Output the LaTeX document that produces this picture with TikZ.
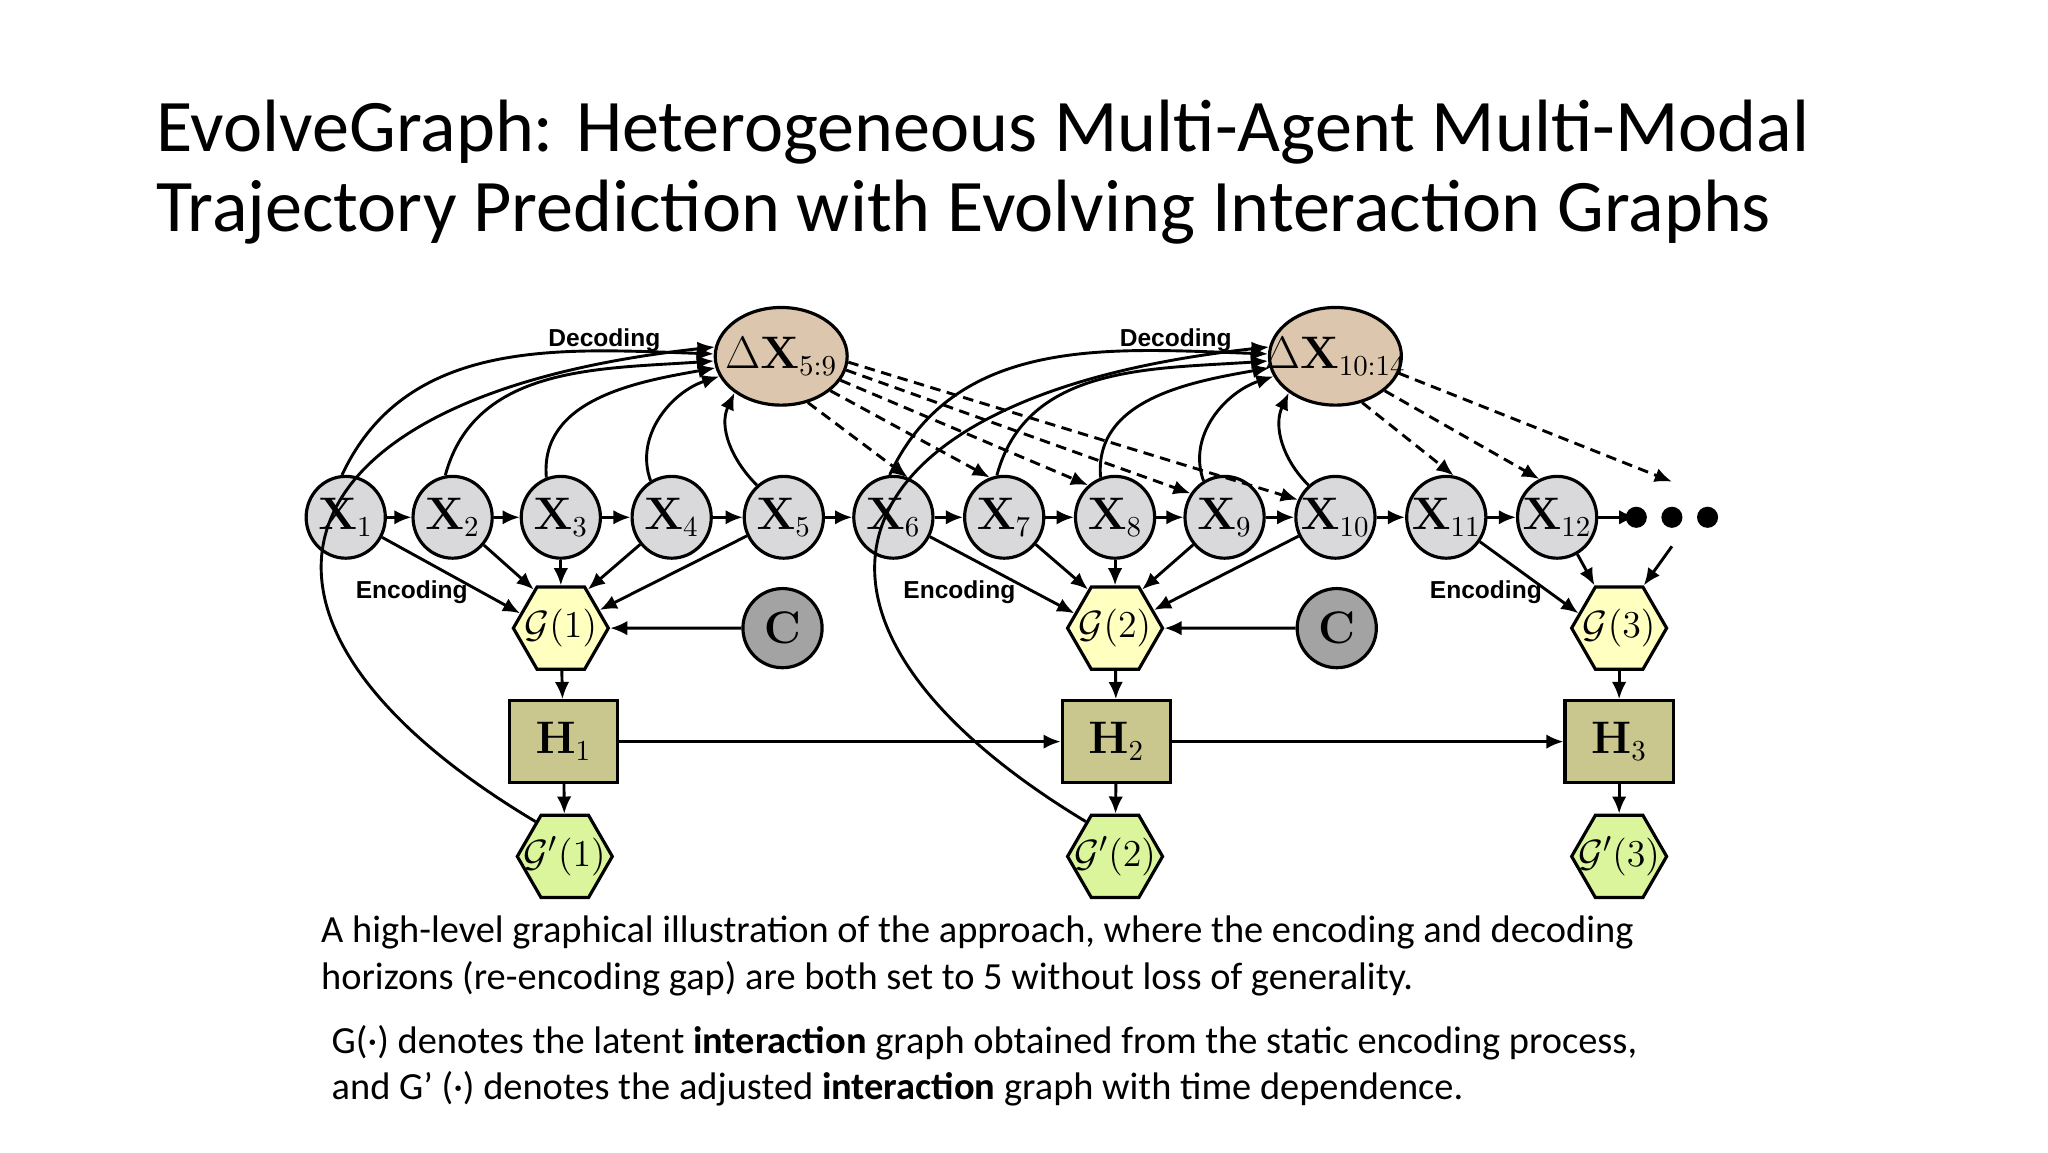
\documentclass[tikz,border=0pt]{standalone}
\usepackage[no-math]{fontspec}
\setmainfont{Carlito}
\newfontfamily\lab{Liberation Sans}
\usetikzlibrary{shapes.geometric,arrows.meta}
\newcommand\zc[1]{\makebox[0pt]{#1}}
\definecolor{xg}{HTML}{D9D9DB}
\definecolor{dx}{HTML}{DCC6AD}
\definecolor{gy}{HTML}{FFFFC0}
\definecolor{cg}{HTML}{A3A3A3}
\definecolor{hh}{HTML}{C9C78E}
\definecolor{gp}{HTML}{DAF59C}
\begin{document}
\begin{tikzpicture}[x=0.5pt,y=0.5pt,
  xn/.style={ellipse,draw,line width=1.2pt,fill=xg,minimum width=30pt,minimum height=31pt,inner sep=0pt,font=\fontsize{16}{18}\selectfont},
  dn/.style={ellipse,draw,line width=1.2pt,fill=dx,minimum width=50pt,minimum height=37pt,inner sep=0pt,font=\fontsize{16}{18}\selectfont},
  gn/.style={regular polygon,regular polygon sides=6,draw,line width=1.2pt,fill=gy,minimum size=36pt,inner sep=0pt,font=\fontsize{15}{17}\selectfont},
  gpn/.style={gn,fill=gp},
  cn/.style={circle,draw,line width=1.2pt,fill=cg,minimum size=30pt,inner sep=0pt,font=\fontsize{18}{20}\selectfont},
  hn/.style={rectangle,draw,line width=1.2pt,fill=hh,minimum width=41pt,minimum height=31pt,inner sep=0pt,font=\fontsize{16}{18}\selectfont},
  lb/.style={font=\lab\bfseries\fontsize{9.3}{11}\selectfont},
  ar/.style={-{Latex[length=6.5pt,width=5.5pt]},line width=1.1pt},
  da/.style={ar,dashed,dash pattern=on 4pt off 2.5pt},
  captext/.style={anchor=west,inner sep=0pt,font=\fontsize{14.55}{17}\selectfont}]
\useasboundingbox[fill=white] (0,0) rectangle (1552,-873);
\node[anchor=west,inner sep=0pt,font=\fontsize{28.1}{32}\selectfont] (t1) at (118,-100) {EvolveGraph: Heterogeneous Multi-Agent Multi-Modal};
\node[anchor=west,inner sep=0pt,font=\fontsize{28.1}{32}\selectfont] (t2) at (118,-161) {Trajectory Prediction with Evolving Interaction Graphs};
% X nodes
\foreach \i/\x in {1/262,2/343,3/425,4/509,5/594,6/677,7/761,8/845,9/928,10/1012,11/1096,12/1180}
  \node[xn] (x\i) at (\x,-392) {\zc{$\mathbf{X}_{\i}$}};
\foreach \i in {1,2,3} \fill (1213+27*\i,-392) circle (8) coordinate (p\i);
\coordinate (pt) at (1267,-365);
\coordinate (pb) at (1267,-414);
\node[dn] (da) at (592,-270) {\zc{$\Delta\mathbf{X}_{5:9}$}};
\node[dn] (db) at (1012,-270) {\zc{$\Delta\mathbf{X}_{10:14}$}};
\node[gn] (g1) at (425,-476) {\zc{$\mathcal{G}(1)$}};
\node[gn] (g2) at (845,-476) {\zc{$\mathcal{G}(2)$}};
\node[gn] (g3) at (1227,-476) {\zc{$\mathcal{G}(3)$}};
\node[cn] (c1) at (593,-476) {$\mathbf{C}$};
\node[cn] (c2) at (1013,-476) {$\mathbf{C}$};
\node[hn] (h1) at (427,-562) {$\mathbf{H}_1$};
\node[hn] (h2) at (846,-562) {$\mathbf{H}_2$};
\node[hn] (h3) at (1227,-562) {$\mathbf{H}_3$};
\node[gpn] (q1) at (428,-649) {\zc{$\mathcal{G}'(1)$}};
\node[gpn] (q2) at (845,-649) {\zc{$\mathcal{G}'(2)$}};
\node[gpn] (q3) at (1227,-649) {\zc{$\mathcal{G}'(3)$}};
\node[lb] (l1) at (458,-258) {Decoding};
\node[lb] (l2) at (891,-258) {Decoding};
\node[lb] (l3) at (312,-449) {Encoding};
\node[lb] (l4) at (727,-449) {Encoding};
\node[lb] (l5) at (1126,-449) {Encoding};
% chain
\foreach \a/\b in {1/2,2/3,3/4,4/5,5/6,6/7,7/8,8/9,9/10,10/11,11/12} \draw[ar] (x\a) -- (x\b);
\draw[ar] (x12) -- (p1);
% encoding
\draw[ar] (x1) -- (g1.160); \draw[ar] (x2) -- (g1.125); \draw[ar] (x3) -- (g1.north);
\draw[ar] (x4) -- (g1.55); \draw[ar] (x5) -- (g1.25);
\draw[ar] (x6) -- (g2.160); \draw[ar] (x7) -- (g2.125); \draw[ar] (x8) -- (g2.north);
\draw[ar] (x9) -- (g2.55); \draw[ar] (x10) -- (g2.25);
\draw[ar] (x11) -- (g3.160); \draw[ar] (x12) -- (g3.120); \draw[ar] (pb) -- (g3.60);
\draw[ar] (c1) -- (g1); \draw[ar] (c2) -- (g2);
\draw[ar] (g1) -- (h1); \draw[ar] (g2) -- (h2); \draw[ar] (g3) -- (h3);
\draw[ar] (h1) -- (q1); \draw[ar] (h2) -- (q2); \draw[ar] (h3) -- (q3);
\draw[ar] (h1) -- (h2); \draw[ar] (h2) -- (h3);
% decoding
\draw[ar] (x1.95) to[out=65,in=178] (da.178);
\draw[ar] (x2.100) to[out=75,in=184] (da.184);
\draw[ar] (x3.110) to[out=95,in=190] (da.190);
\draw[ar] (x4.120) to[out=110,in=198] (da.198);
\draw[ar] (x5.130) to[out=135,in=245] (da.218);
\draw[ar] (x6.95) to[out=65,in=178] (db.178);
\draw[ar] (x7.100) to[out=75,in=184] (db.184);
\draw[ar] (x8.110) to[out=95,in=190] (db.190);
\draw[ar] (x9.120) to[out=110,in=198] (db.198);
\draw[ar] (x10.130) to[out=135,in=245] (db.218);
\draw[ar] (q1.130) .. controls (150,-470) and (200,-300) .. (da.172);
\draw[ar] (q2.130) .. controls (570,-470) and (620,-300) .. (db.172);
% dashed
\draw[da] (da.300) -- (x6.70);
\draw[da] (da.325) -- (x7.110);
\draw[da] (da.338) -- (x8.130);
\draw[da] (da.348) -- (x9.145);
\draw[da] (da.355) -- (x10.155);
\draw[da] (db.300) -- (x11.80);
\draw[da] (db.325) -- (x12.115);
\draw[da] (db.345) -- (pt);
% caption
\node[captext] (k1) at (243,-707) {A high-level graphical illustration of the approach, where the encoding and decoding};
\node[captext] (k2) at (243,-742) {horizons (re-encoding gap) are both set to 5 without loss of generality.};
\node[captext] (k3) at (251,-790) {G(·) denotes the latent \textbf{interaction} graph obtained from the static encoding process,};
\node[captext] (k4) at (251,-825) {and G’ (·) denotes the adjusted \textbf{interaction} graph with time dependence.};
\end{tikzpicture}
\end{document}
